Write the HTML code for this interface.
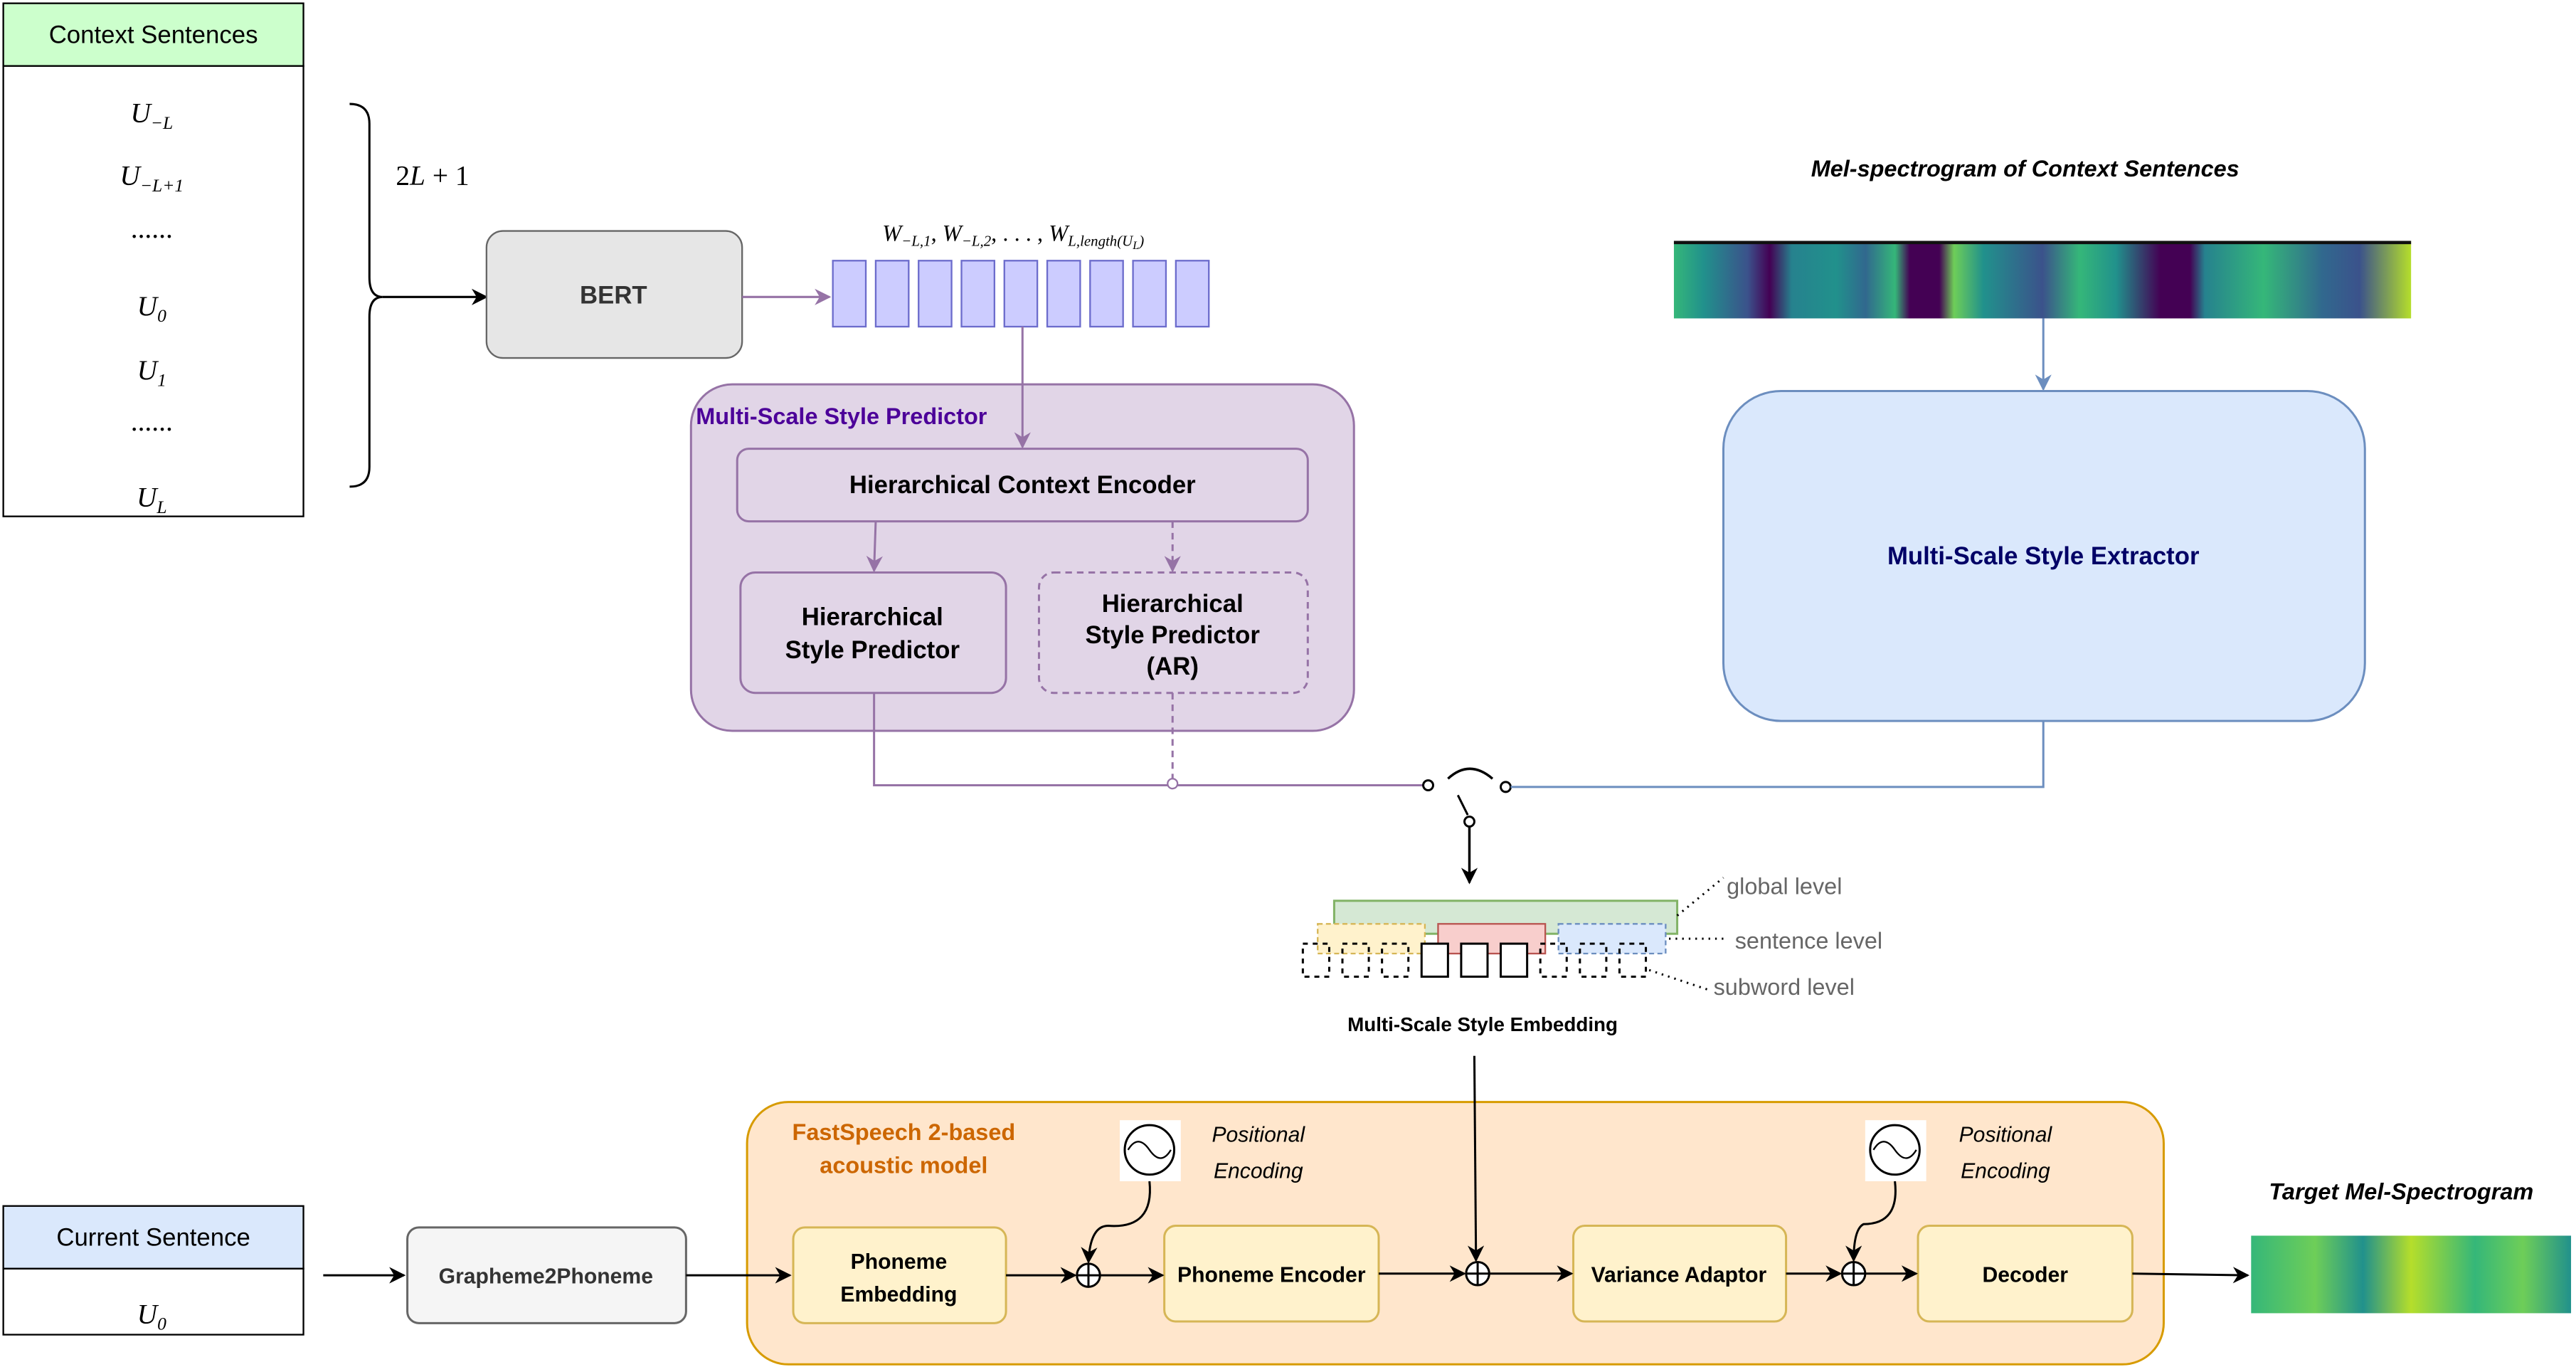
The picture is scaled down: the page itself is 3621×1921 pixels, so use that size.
<!DOCTYPE html>
<html><head><meta charset="utf-8"><style>html,body{margin:0;padding:0;background:#fff}svg{display:block}</style></head><body>
<svg width="3621" height="1921" viewBox="0 0 1562 828.6" preserveAspectRatio="none" xmlns="http://www.w3.org/2000/svg" font-family="Liberation Sans, sans-serif">
<defs>
<marker id="ab" markerWidth="10" markerHeight="10" refX="9" refY="5" orient="auto" markerUnits="userSpaceOnUse"><path d="M0,0 L10,5 L0,10 L3,5z" fill="#000"/></marker>
<marker id="ap" markerWidth="10" markerHeight="10" refX="9" refY="5" orient="auto" markerUnits="userSpaceOnUse"><path d="M0,0 L10,5 L0,10 L3,5z" fill="#9673a6"/></marker>
<marker id="au" markerWidth="10" markerHeight="10" refX="9" refY="5" orient="auto" markerUnits="userSpaceOnUse"><path d="M0,0 L10,5 L0,10 L3,5z" fill="#6c8ebf"/></marker>
<linearGradient id="mel" x1="0" x2="1" y1="0" y2="0">
<stop offset="0" stop-color="#35b779"/><stop offset=".04" stop-color="#21918c"/><stop offset=".1" stop-color="#3b528b"/><stop offset=".13" stop-color="#440154"/><stop offset=".16" stop-color="#26828e"/><stop offset=".22" stop-color="#21918c"/><stop offset=".26" stop-color="#31688e"/><stop offset=".3" stop-color="#35b779"/><stop offset=".32" stop-color="#440154"/><stop offset=".36" stop-color="#440154"/><stop offset=".38" stop-color="#6ece58"/><stop offset=".42" stop-color="#21918c"/><stop offset=".5" stop-color="#3b528b"/><stop offset=".55" stop-color="#35b779"/><stop offset=".6" stop-color="#21918c"/><stop offset=".66" stop-color="#440154"/><stop offset=".7" stop-color="#440154"/><stop offset=".72" stop-color="#26828e"/><stop offset=".8" stop-color="#35b779"/><stop offset=".88" stop-color="#31688e"/><stop offset=".93" stop-color="#3b528b"/><stop offset="1" stop-color="#b5de2b"/>
</linearGradient>
<linearGradient id="mel2" x1="0" x2="1">
<stop offset="0" stop-color="#35b779"/><stop offset=".2" stop-color="#6ece58"/><stop offset=".35" stop-color="#21918c"/><stop offset=".5" stop-color="#b5de2b"/><stop offset=".7" stop-color="#35b779"/><stop offset=".85" stop-color="#6ece58"/><stop offset="1" stop-color="#21918c"/>
</linearGradient>
</defs>

<rect x="2" y="2" width="182" height="38" fill="#ccffcc" stroke="#000"/>
<text x="93" y="26" font-size="15" text-anchor="middle">Context Sentences</text>
<rect x="2" y="40" width="182" height="273" fill="#fff" stroke="#000"/>
<g font-family="Liberation Serif, serif" font-style="italic" font-size="17" text-anchor="middle">
<text x="92" y="74">U<tspan font-size="11" dy="4">−L</tspan></text>
<text x="92" y="112">U<tspan font-size="11" dy="4">−L+1</tspan></text>
<text x="92" y="144" font-style="normal">......</text>
<text x="92" y="191">U<tspan font-size="11" dy="4">0</tspan></text>
<text x="92" y="230">U<tspan font-size="11" dy="4">1</tspan></text>
<text x="92" y="261" font-style="normal">......</text>
<text x="92" y="307">U<tspan font-size="11" dy="4">L</tspan></text>
</g>
<path d="M212,63 Q224,63 224,75 L224,168 Q224,180 232,180 Q224,180 224,192 L224,283 Q224,295 212,295" fill="none" stroke="#000" stroke-width="1.3"/>
<line x1="232" y1="180" x2="295" y2="180" stroke="#000" stroke-width="1.3" marker-end="url(#ab)"/>
<text x="240" y="112" font-family="Liberation Serif, serif" font-size="17">2<tspan font-style="italic">L</tspan> + 1</text>

<rect x="295" y="140" width="155" height="77" rx="10" fill="#e6e6e6" stroke="#666"/>
<text x="372" y="184" font-size="15" font-weight="bold" text-anchor="middle" fill="#333">BERT</text>
<line x1="450" y1="180" x2="503" y2="180" stroke="#9673a6" stroke-width="1.3" marker-end="url(#ap)"/>
<g fill="#ccccff" stroke="#6c6ccc">
<rect x="505" y="158" width="20" height="40"/><rect x="531" y="158" width="20" height="40"/><rect x="557" y="158" width="20" height="40"/><rect x="583" y="158" width="20" height="40"/><rect x="609" y="158" width="20" height="40"/><rect x="635" y="158" width="20" height="40"/><rect x="661" y="158" width="20" height="40"/><rect x="687" y="158" width="20" height="40"/><rect x="713" y="158" width="20" height="40"/>
</g>
<text x="535" y="146" font-family="Liberation Serif, serif" font-style="italic" font-size="14">W<tspan font-size="9" dy="3">−L,1</tspan><tspan dy="-3" font-style="normal">, </tspan>W<tspan font-size="9" dy="3">−L,2</tspan><tspan dy="-3" font-style="normal">, . . . , </tspan>W<tspan font-size="9" dy="3">L,length(U</tspan><tspan font-size="7" dy="2">L</tspan><tspan font-size="9" dy="-2">)</tspan></text>

<rect x="419" y="233" width="402" height="210" rx="25" fill="#e1d5e7" stroke="#9673a6" stroke-width="1.3"/>
<text x="422" y="257" font-size="14" font-weight="bold" fill="#4c0099">Multi-Scale Style Predictor</text>
<line x1="620" y1="198" x2="620" y2="271" stroke="#9673a6" stroke-width="1.3" marker-end="url(#ap)"/>
<rect x="447" y="272" width="346" height="44" rx="7" fill="#e1d5e7" stroke="#9673a6" stroke-width="1.3"/>
<text x="620" y="299" font-size="15" font-weight="bold" text-anchor="middle">Hierarchical  Context Encoder</text>
<rect x="449" y="347" width="161" height="73" rx="9" fill="#e1d5e7" stroke="#9673a6" stroke-width="1.3"/>
<text x="529" y="379" font-size="15" font-weight="bold" text-anchor="middle">Hierarchical</text>
<text x="529" y="399" font-size="15" font-weight="bold" text-anchor="middle">Style Predictor</text>
<rect x="630" y="347" width="163" height="73" rx="9" fill="#e1d5e7" stroke="#9673a6" stroke-width="1.3" stroke-dasharray="4 3"/>
<text x="711" y="371" font-size="15" font-weight="bold" text-anchor="middle">Hierarchical</text>
<text x="711" y="390" font-size="15" font-weight="bold" text-anchor="middle">Style Predictor</text>
<text x="711" y="409" font-size="15" font-weight="bold" text-anchor="middle">(AR)</text>
<line x1="531" y1="316" x2="530" y2="346" stroke="#9673a6" stroke-width="1.3" marker-end="url(#ap)"/>
<line x1="711" y1="316" x2="711" y2="346" stroke="#9673a6" stroke-width="1.3" stroke-dasharray="4 3" marker-end="url(#ap)"/>
<polyline points="530,420 530,476 863,476" fill="none" stroke="#9673a6" stroke-width="1.3"/>
<line x1="711" y1="420" x2="711" y2="472" stroke="#9673a6" stroke-width="1.3" stroke-dasharray="4 3"/>
<circle cx="711" cy="475" r="3" fill="#fff" stroke="#9673a6"/>

<circle cx="866" cy="476" r="3" fill="#fff" stroke="#000" stroke-width="1.3"/>
<path d="M878,472 Q891,460 905,472" fill="none" stroke="#000" stroke-width="1.5"/>
<circle cx="913" cy="477" r="3" fill="#fff" stroke="#000" stroke-width="1.3"/>
<line x1="884" y1="482" x2="890" y2="494" stroke="#000" stroke-width="1.3"/>
<circle cx="891" cy="498" r="3" fill="#fff" stroke="#000" stroke-width="1.3"/>
<line x1="891" y1="501" x2="891" y2="535" stroke="#000" stroke-width="1.5" marker-end="url(#ab)"/>
<polyline points="916,477 1239,477 1239,437" fill="none" stroke="#6c8ebf" stroke-width="1.3"/>

<text x="1228" y="107" font-size="14" font-weight="bold" font-style="italic" text-anchor="middle">Mel-spectrogram of Context Sentences</text>
<rect x="1015" y="146" width="447" height="47" fill="url(#mel)"/>
<rect x="1015" y="146" width="447" height="2" fill="#111"/>
<line x1="1239" y1="193" x2="1239" y2="236" stroke="#6c8ebf" stroke-width="1.3" marker-end="url(#au)"/>
<rect x="1045" y="237" width="389" height="200" rx="35" fill="#dae8fc" stroke="#6c8ebf" stroke-width="1.3"/>
<text x="1239" y="342" font-size="15" font-weight="bold" text-anchor="middle" fill="#000066">Multi-Scale Style Extractor</text>

<rect x="809" y="546" width="208" height="20" fill="#d5e8d4" stroke="#82b366" stroke-width="1.3"/>
<rect x="799" y="560" width="65" height="18" fill="#fff2cc" stroke="#d6b656" stroke-dasharray="3 2"/>
<rect x="872" y="560" width="65" height="18" fill="#f8cecc" stroke="#b85450"/>
<rect x="945" y="560" width="65" height="18" fill="#dae8fc" stroke="#6c8ebf" stroke-dasharray="3 2"/>
<g fill="none" stroke="#000" stroke-width="1.3">
<rect x="790" y="572" width="16" height="20" stroke-dasharray="3 3"/><rect x="814" y="572" width="16" height="20" stroke-dasharray="3 3"/><rect x="838" y="572" width="16" height="20" stroke-dasharray="3 3"/>
<rect x="862" y="572" width="16" height="20" fill="#fff"/><rect x="886" y="572" width="16" height="20" fill="#fff"/><rect x="910" y="572" width="16" height="20" fill="#fff"/>
<rect x="934" y="572" width="16" height="20" stroke-dasharray="3 3"/><rect x="958" y="572" width="16" height="20" stroke-dasharray="3 3"/><rect x="982" y="572" width="16" height="20" stroke-dasharray="3 3"/>
</g>
<g stroke="#000" stroke-dasharray="1 3" stroke-width="1.3">
<line x1="1017" y1="555" x2="1045" y2="532"/><line x1="1012" y1="569" x2="1048" y2="569"/><line x1="1000" y1="588" x2="1036" y2="600"/>
</g>
<g font-size="14" fill="#666">
<text x="1047" y="542">global level</text><text x="1052" y="575">sentence level</text><text x="1039" y="603">subword level</text>
</g>
<text x="899" y="625" font-size="12" font-weight="bold" text-anchor="middle">Multi-Scale Style Embedding</text>

<rect x="453" y="668" width="859" height="159" rx="25" fill="#ffe6cc" stroke="#d79b00" stroke-width="1.3"/>
<line x1="894" y1="640" x2="895" y2="764" stroke="#000" stroke-width="1.3" marker-end="url(#ab)"/>
<text x="548" y="691" font-size="14" font-weight="bold" fill="#cc6600" text-anchor="middle">FastSpeech 2-based</text>
<text x="548" y="711" font-size="14" font-weight="bold" fill="#cc6600" text-anchor="middle">acoustic model</text>
<g fill="#fff2cc" stroke="#d6b656" stroke-width="1.3">
<rect x="481" y="744" width="129" height="58" rx="7"/><rect x="706" y="743" width="130" height="58" rx="7"/><rect x="954" y="743" width="129" height="58" rx="7"/><rect x="1163" y="743" width="130" height="58" rx="7"/>
</g>
<g font-size="13" font-weight="bold" text-anchor="middle">
<text x="545" y="769">Phoneme</text><text x="545" y="789">Embedding</text>
<text x="771" y="777">Phoneme Encoder</text>
<text x="1018" y="777">Variance Adaptor</text>
<text x="1228" y="777">Decoder</text>
</g>
<g fill="#fff" stroke="#000" stroke-width="1.3">
<circle cx="660" cy="773" r="7"/><circle cx="896" cy="772" r="7"/><circle cx="1124" cy="772" r="7"/>
</g>
<g stroke="#000" stroke-width="1.3">
<line x1="653" y1="773" x2="667" y2="773"/><line x1="660" y1="766" x2="660" y2="780"/>
<line x1="889" y1="772" x2="903" y2="772"/><line x1="896" y1="765" x2="896" y2="779"/>
<line x1="1117" y1="772" x2="1131" y2="772"/><line x1="1124" y1="765" x2="1124" y2="779"/>
</g>
<g stroke="#000" stroke-width="1.3" fill="none">
<line x1="610" y1="773" x2="652" y2="773" marker-end="url(#ab)"/>
<line x1="667" y1="773" x2="705" y2="773" marker-end="url(#ab)"/>
<line x1="836" y1="772" x2="888" y2="772" marker-end="url(#ab)"/>
<line x1="903" y1="772" x2="953" y2="772" marker-end="url(#ab)"/>
<line x1="1083" y1="772" x2="1116" y2="772" marker-end="url(#ab)"/>
<line x1="1131" y1="772" x2="1162" y2="772" marker-end="url(#ab)"/>
<path d="M697,716 Q700,745 672,743 Q661,743 660,765" marker-end="url(#ab)"/>
<path d="M1149,716 Q1152,742 1130,742 Q1124,745 1124,764" marker-end="url(#ab)"/>
</g>
<rect x="679" y="679" width="37" height="37" fill="#fff"/>
<circle cx="697" cy="697" r="15" fill="none" stroke="#000" stroke-width="1.3"/>
<path d="M684,697 Q690,687 697,697 Q704,707 710,697" fill="none" stroke="#000"/>
<rect x="1131" y="679" width="37" height="37" fill="#fff"/>
<circle cx="1149" cy="697" r="15" fill="none" stroke="#000" stroke-width="1.3"/>
<path d="M1136,697 Q1142,687 1149,697 Q1156,707 1162,697" fill="none" stroke="#000"/>
<g font-size="13" font-style="italic" text-anchor="middle">
<text x="763" y="692">Positional</text><text x="763" y="714">Encoding</text>
<text x="1216" y="692">Positional</text><text x="1216" y="714">Encoding</text>
</g>

<rect x="2" y="731" width="182" height="38" fill="#dae8fc" stroke="#000"/>
<text x="93" y="755" font-size="15" text-anchor="middle">Current Sentence</text>
<rect x="2" y="769" width="182" height="40" fill="#fff" stroke="#000"/>
<text x="92" y="802" font-family="Liberation Serif, serif" font-style="italic" font-size="17" text-anchor="middle">U<tspan font-size="11" dy="4">0</tspan></text>
<line x1="196" y1="773" x2="245" y2="773" stroke="#000" stroke-width="1.3" marker-end="url(#ab)"/>
<rect x="247" y="744" width="169" height="58" rx="7" fill="#f5f5f5" stroke="#666" stroke-width="1.3"/>
<text x="331" y="778" font-size="13" font-weight="bold" fill="#333" text-anchor="middle">Grapheme2Phoneme</text>
<line x1="416" y1="773" x2="479" y2="773" stroke="#000" stroke-width="1.3" marker-end="url(#ab)"/>

<text x="1456" y="727" font-size="14" font-weight="bold" font-style="italic" text-anchor="middle">Target Mel-Spectrogram</text>
<rect x="1365" y="749" width="194" height="47" fill="url(#mel2)"/>
<line x1="1293" y1="772" x2="1363" y2="773" stroke="#000" stroke-width="1.3" marker-end="url(#ab)"/>
</svg>
</body></html>
